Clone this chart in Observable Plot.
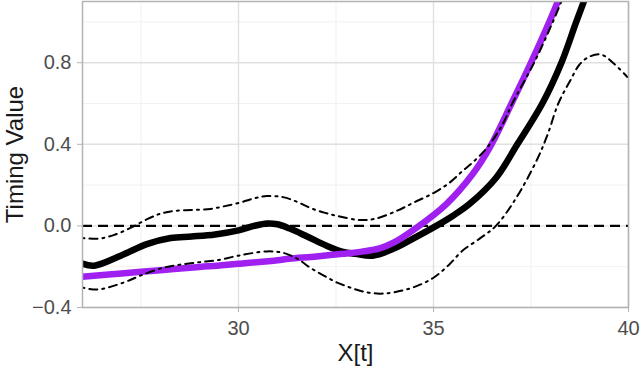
<!DOCTYPE html>
<html>
<head>
<meta charset="utf-8">
<script src="https://cdn.jsdelivr.net/npm/d3@7"></script>
<script src="https://cdn.jsdelivr.net/npm/@observablehq/plot@0.6"></script>
<style>
  html, body { margin: 0; padding: 0; background: white; }
</style>
</head>
<body>
<div id="chart"></div>
<script>
// Mean curve (black)
const meanX = [26, 26.3, 26.98, 27.67, 28.26, 28.8, 29.4, 30, 30.4, 30.73, 31.0, 31.3, 31.76, 32.27, 32.68, 33.0, 33.44, 34.0, 34.5, 35.07, 35.5, 35.92, 36.6, 37.15, 37.79, 38.28, 38.66, 39.05];
const meanY = [-0.185, -0.195, -0.146, -0.088, -0.059, -0.052, -0.042, -0.022, 0.0, 0.012, 0.008, -0.012, -0.052, -0.098, -0.127, -0.137, -0.146, -0.11, -0.06, 0.0, 0.05, 0.107, 0.235, 0.4, 0.6, 0.8, 1.0, 1.2];

// Purple curve
const purpleX = [26, 27, 28, 29, 29.46, 30, 31, 31.3, 32, 32.68, 33.2, 33.62, 34.0, 34.56, 35.33, 36.0, 36.43, 37.0, 37.5, 37.97, 38.4];
const purpleY = [-0.249, -0.233, -0.217, -0.201, -0.195, -0.186, -0.168, -0.161, -0.15, -0.137, -0.125, -0.11, -0.08, -0.01, 0.107, 0.253, 0.38, 0.6, 0.8, 1.0, 1.2];

// Upper band (dot-dash)
const upperX = [26, 26.4, 26.8, 27.23, 27.67, 28.0, 28.33, 28.8, 29.28, 29.6, 30, 30.4, 30.73, 31.14, 31.5, 31.84, 32.2, 32.53, 33.1, 33.5, 34.05, 34.5, 35.0, 35.4, 35.74, 36.0, 36.36, 36.77, 37.02, 37.58, 38.06, 38.45];
const upperY = [-0.059, -0.063, -0.045, -0.01, 0.034, 0.06, 0.073, 0.078, 0.083, 0.095, 0.112, 0.135, 0.146, 0.141, 0.118, 0.088, 0.065, 0.049, 0.029, 0.035, 0.073, 0.115, 0.161, 0.21, 0.268, 0.31, 0.38, 0.497, 0.6, 0.8, 1.0, 1.18];

// Lower band (dot-dash)
const lowerX = [26, 26.38, 27.05, 27.48, 28.07, 28.5, 29.0, 29.46, 30, 30.73, 31.14, 31.5, 31.84, 32.2, 32.53, 32.86, 33.2, 33.62, 34.0, 34.5, 35.0, 35.4, 35.74, 36.2, 36.6, 37.12, 37.66, 37.93, 38.2, 38.5, 38.74, 39.0, 39.3, 39.6, 39.97];
const lowerY = [-0.302, -0.312, -0.278, -0.244, -0.205, -0.19, -0.178, -0.168, -0.146, -0.125, -0.132, -0.16, -0.205, -0.245, -0.278, -0.302, -0.322, -0.332, -0.325, -0.3, -0.254, -0.19, -0.122, -0.06, 0.0, 0.137, 0.327, 0.45, 0.6, 0.71, 0.79, 0.83, 0.84, 0.8, 0.73];

const xTicks = [30, 35, 40];
const xMinor = [27.5, 32.5, 37.5];
const yTicks = [-0.4, 0.0, 0.4, 0.8];
const yMinor = [-0.2, 0.2, 0.6, 1.0];
const refLine = [0];
const xTitle = "X[t]";
const yTitle = "Timing Value";

const toRows = (xs, ys) => xs.map((x, i) => ({x, y: ys[i]}));
const mean = toRows(meanX, meanY);
const purple = toRows(purpleX, purpleY);
const upper = toRows(upperX, upperY);
const lower = toRows(lowerX, lowerY);

const dotdash = "2,5,8,5";

const chart = Plot.plot({
  width: 640,
  height: 369,
  marginLeft: 82,
  marginRight: 12,
  marginTop: 1,
  marginBottom: 62,
  x: {domain: [26, 40]},
  y: {domain: [-0.4, 1.1]},
  style: {fontFamily: "'Liberation Sans', Arial, Helvetica, sans-serif", background: "white"},
  marks: [
    Plot.gridX(xMinor, {stroke: "#eeeeee", strokeOpacity: 1, strokeWidth: 0.8}),
    Plot.gridY(yMinor, {stroke: "#eeeeee", strokeOpacity: 1, strokeWidth: 0.8}),
    Plot.gridX(xTicks, {stroke: "#e0e0e0", strokeOpacity: 1, strokeWidth: 1.4}),
    Plot.gridY(yTicks, {stroke: "#e0e0e0", strokeOpacity: 1, strokeWidth: 1.4}),
    Plot.ruleY(refLine, {stroke: "black", strokeWidth: 2.2, strokeDasharray: "10,6"}),
    Plot.line(mean, {x: "x", y: "y", stroke: "black", strokeWidth: 6.5, curve: "catmull-rom", clip: true}),
    Plot.line(purple, {x: "x", y: "y", stroke: "#A020F0", strokeWidth: 6.5, curve: "catmull-rom", clip: true}),
    Plot.line(upper, {x: "x", y: "y", stroke: "black", strokeWidth: 2, strokeDasharray: dotdash, curve: "catmull-rom", clip: true}),
    Plot.line(lower, {x: "x", y: "y", stroke: "black", strokeWidth: 2, strokeDasharray: dotdash, curve: "catmull-rom", clip: true}),
    Plot.frame({stroke: "#b3b3b3", strokeWidth: 1.5}),
    Plot.axisX(xTicks, {tickSize: 5, tickPadding: 8, fontSize: 20, stroke: "#b3b3b3", fill: "#4d4d4d", label: null, tickFormat: d => String(d)}),
    Plot.axisY(yTicks, {tickSize: 5, tickPadding: 6, fontSize: 20, stroke: "#b3b3b3", fill: "#4d4d4d", label: null, tickFormat: d3.format(".1f")}),
    Plot.text([xTitle], {frameAnchor: "bottom", lineAnchor: "middle", textAnchor: "middle", dy: 46, fontSize: 24, fill: "#1a1a1a"}),
    Plot.text([yTitle], {frameAnchor: "left", textAnchor: "middle", lineAnchor: "middle", dx: -67, rotate: -90, fontSize: 24, fill: "#1a1a1a"})
  ]
});

document.getElementById("chart").appendChild(chart);
</script>
</body>
</html>
